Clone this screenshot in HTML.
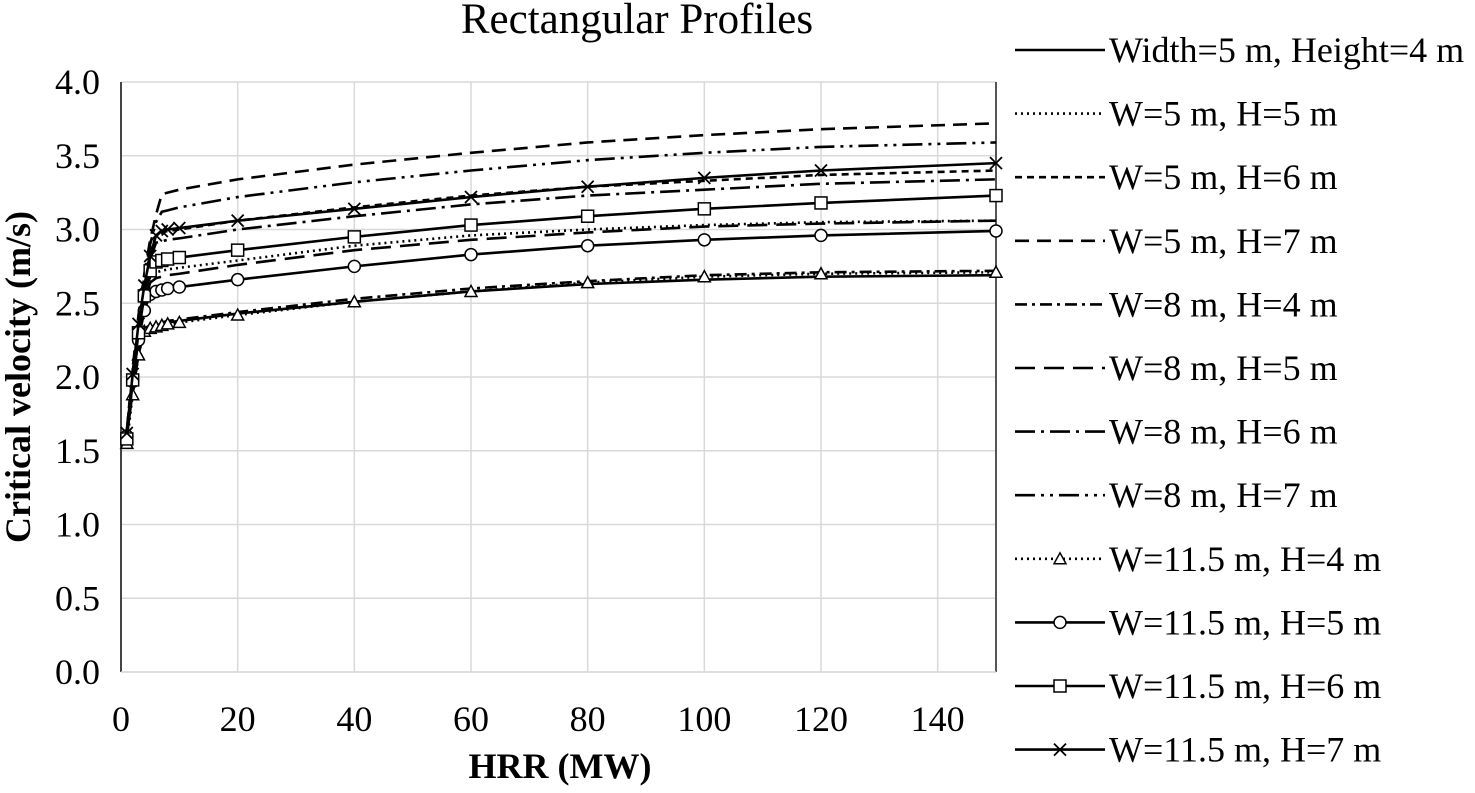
<!DOCTYPE html>
<html><head><meta charset="utf-8"><style>
body{margin:0;background:#fff;}
svg text{font-family:"Liberation Serif",serif;fill:#000;}
</style></head><body>
<svg id="chart" width="1475" height="788" xmlns="http://www.w3.org/2000/svg">
<text x="637" y="33" font-size="43" text-anchor="middle">Rectangular Profiles</text>
<g id="grid"></g>
<g id="axes"></g>
<g id="series"></g>
<g id="legend"></g>
<text x="560" y="778" font-size="36" font-weight="bold" text-anchor="middle">HRR (MW)</text>
<text transform="translate(30,377) rotate(-90)" font-size="36" font-weight="bold" text-anchor="middle">Critical velocity (m/s)</text>
</svg>
<script>
const hrr = [1,2,3,4,5,6,7,8,10,20,40,60,80,100,120,150];
const seriesNames = ["Width=5 m, Height=4 m","W=5 m, H=5 m","W=5 m, H=6 m","W=5 m, H=7 m","W=8 m, H=4 m","W=8 m, H=5 m","W=8 m, H=6 m","W=8 m, H=7 m","W=11.5 m, H=4 m","W=11.5 m, H=5 m","W=11.5 m, H=6 m","W=11.5 m, H=7 m"];
const w5h4 = [1.60,1.90,2.15,2.32,2.34,2.35,2.36,2.37,2.38,2.43,2.51,2.58,2.63,2.66,2.68,2.69];
const w5h5 = [1.62,2.00,2.30,2.52,2.68,2.71,2.72,2.73,2.74,2.79,2.89,2.96,3.00,3.03,3.05,3.06];
const w5h6 = [1.63,2.03,2.37,2.63,2.84,2.96,2.98,2.99,3.00,3.06,3.15,3.23,3.29,3.33,3.37,3.40];
const w5h7 = [1.64,2.06,2.42,2.70,2.93,3.10,3.24,3.25,3.27,3.34,3.44,3.52,3.59,3.64,3.68,3.72];
const w8h4 = [1.62,1.92,2.17,2.33,2.35,2.36,2.37,2.38,2.39,2.44,2.53,2.60,2.65,2.69,2.71,2.72];
const w8h5 = [1.62,1.99,2.28,2.50,2.64,2.67,2.68,2.69,2.70,2.76,2.86,2.93,2.98,3.02,3.04,3.06];
const w8h6 = [1.62,2.02,2.35,2.60,2.80,2.91,2.92,2.93,2.94,3.00,3.09,3.17,3.23,3.27,3.31,3.34];
const w8h7 = [1.63,2.05,2.40,2.68,2.90,3.05,3.12,3.13,3.15,3.22,3.32,3.40,3.47,3.52,3.56,3.59];
const w11h4 = [1.55,1.88,2.15,2.31,2.33,2.34,2.35,2.36,2.37,2.42,2.51,2.58,2.64,2.68,2.70,2.71];
const w11h5 = [1.60,1.97,2.25,2.45,2.56,2.58,2.59,2.60,2.61,2.66,2.75,2.83,2.89,2.93,2.96,2.99];
const w11h6 = [1.58,1.98,2.30,2.55,2.72,2.78,2.79,2.80,2.81,2.86,2.95,3.03,3.09,3.14,3.18,3.23];
const w11h7 = [1.62,2.02,2.36,2.62,2.82,2.96,2.99,3.00,3.01,3.06,3.14,3.22,3.29,3.35,3.40,3.45];
const xTicks = [0,20,40,60,80,100,120,140];
const yTicks = [0,0.5,1,1.5,2,2.5,3,3.5,4];
const xMin=0,xMax=150,yMin=0,yMax=4;
const L=121,R=996,T=82,B=672;
function sx(v){return L+(v-xMin)/(xMax-xMin)*(R-L);}
function sy(v){return B-(v-yMin)/(yMax-yMin)*(B-T);}
const NS="http://www.w3.org/2000/svg";
function mk(tag,attrs,parent){const e=document.createElementNS(NS,tag);for(const k in attrs)e.setAttribute(k,attrs[k]);parent.appendChild(e);return e;}
const grid=document.getElementById('grid'),axes=document.getElementById('axes'),sg=document.getElementById('series'),lg=document.getElementById('legend');
for(let i=0;i<=7;i++){const x=sx(i*20);
 const l=mk('line',{x1:x,x2:x,y1:T,y2:B,stroke:'#d9d9d9','stroke-width':1.5},grid);
 
 }
yTicks.forEach(v=>{const y=sy(v);
 const l=mk('line',{x1:L,x2:R,y1:y,y2:y,stroke:'#d9d9d9','stroke-width':1.5},grid);
 
 
 const t=mk('text',{x:100,y:y+12,'font-size':36,'text-anchor':'end'},axes);t.textContent=v.toFixed(1);
 
 });
xTicks.forEach(v=>{const t=mk('text',{x:sx(v),y:731,'font-size':36,'text-anchor':'middle'},axes);t.textContent=v;
 
 });
const la=mk('line',{x1:L,x2:L,y1:T,y2:B,stroke:'#444','stroke-width':2},axes);


const ra=mk('line',{x1:R,x2:R,y1:T,y2:B,stroke:'#555','stroke-width':2},axes);


const ba=mk('line',{x1:L,x2:R,y1:B,y2:B,stroke:'#d9d9d9','stroke-width':1.5},axes);


const data=[w5h4,w5h5,w5h6,w5h7,w8h4,w8h5,w8h6,w8h7,w11h4,w11h5,w11h6,w11h7];
const dash=["","2,4","7,5","14,8","12,5,3,5","20,9","20,6,3,6","20,6,3,6,3,6","2,4","","",""];
const marker=[null,null,null,null,null,null,null,null,'tri','circ','sq','x'];
function drawMarker(type,x,y,p){
 let e;
 if(type==='tri')e=mk('polygon',{points:`${x},${y-6} ${x-6},${y+5} ${x+6},${y+5}`,fill:'#fff',stroke:'#000','stroke-width':1.5},p);
 else if(type==='circ')e=mk('circle',{cx:x,cy:y,r:6,fill:'#fff',stroke:'#000','stroke-width':1.5},p);
 else if(type==='sq')e=mk('rect',{x:x-6,y:y-6,width:12,height:12,fill:'#fff',stroke:'#000','stroke-width':1.5},p);
 else if(type==='x')e=mk('path',{d:`M${x-6} ${y-6}L${x+6} ${y+6}M${x-6} ${y+6}L${x+6} ${y-6}`,stroke:'#000','stroke-width':1.8},p);
 return e;}
data.forEach((vals,i)=>{
 const g=mk('g',{},sg);
 
 
 const pts=vals.map((v,j)=>sx(hrr[j])+','+sy(v)).join(' ');
 const pl=mk('polyline',{points:pts,fill:'none',stroke:'#000','stroke-width':2.6,'stroke-dasharray':dash[i]},g);
 
 
 if(marker[i])vals.forEach((v,j)=>{const m=drawMarker(marker[i],sx(hrr[j]),sy(v),g);
  
  });
 const ly=50+i*63.6;
 const lgE=mk('g',{},lg);
 
 
 mk('line',{x1:1015,x2:1105,y1:ly,y2:ly,stroke:'#000','stroke-width':2.6,'stroke-dasharray':dash[i]},lgE);
 if(marker[i])drawMarker(marker[i],1060,ly,lgE);
 const t=mk('text',{x:1109,y:ly+12,'font-size':36},lgE);t.textContent=seriesNames[i];
});
</script>
</body></html>
